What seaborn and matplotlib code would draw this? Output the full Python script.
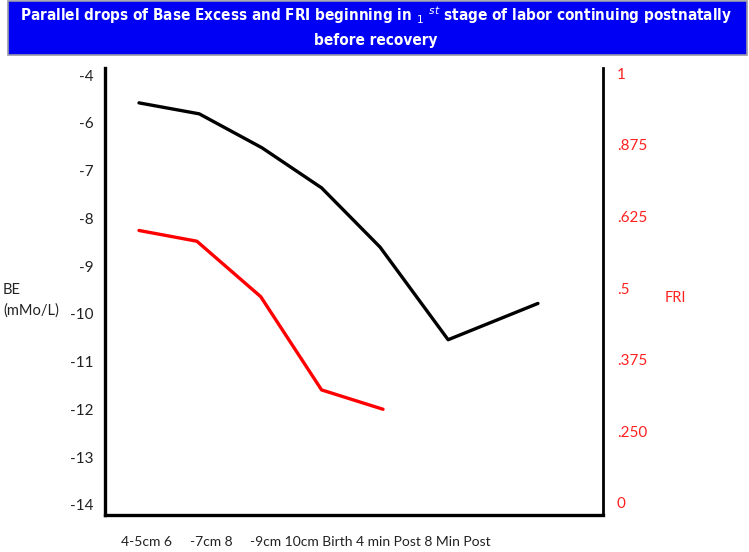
import numpy as np
import pandas as pd
import matplotlib
matplotlib.use("Agg")
import matplotlib.pyplot as plt
import seaborn as sns
from matplotlib.patches import Rectangle

# ---- data ----
# x positions of the stages (category steps)
be_x = [0.0, 1.0, 2.04, 3.03, 4.0, 5.13, 6.62]
be_vals = [-5.58, -5.81, -6.52, -7.36, -8.60, -10.54, -9.78]   # in left-axis position units
fri_x = [0.0, 0.96, 2.02, 3.03, 4.05]
fri_vals = [0.634, 0.609, 0.480, 0.263, 0.218]                 # in right-axis position units

left_tick_pos = [-5, -6, -7, -8, -9, -10, -11, -12, -13, -14]
left_tick_labels = ["-4", "-6", "-7", "-8", "-9", "-10", "-11", "-12", "-13", "-14"]
right_tick_pos = [0, 1/6, 2/6, 3/6, 4/6, 5/6, 1]
right_tick_labels = ["0", ".250", ".375", ".5", ".625", ".875", "1"]
x_tick_pos = [0.12, 1.2, 3.84]
x_tick_labels = ["4-5cm 6", "-7cm 8", "-9cm 10cm Birth 4 min Post 8 Min Post"]

title_lines = ["Parallel drops of Base Excess and FRI beginning in $_1$ $^{st}$ stage of labor continuing postnatally",
               "before recovery"]

sns.set_style("white")
plt.rcParams['font.family'] = ['Lato', 'DejaVu Sans']

W, H = 749, 552
fig = plt.figure(figsize=(W / 100, H / 100), dpi=100)
ax = fig.add_axes([105 / W, 1 - 515 / H, (603 - 105) / W, (515 - 68) / H])
ax2 = ax.twinx()

df_be = pd.DataFrame({"x": be_x, "v": be_vals})
df_fri = pd.DataFrame({"x": fri_x, "v": fri_vals})
sns.lineplot(data=df_be, x="x", y="v", ax=ax, color="black", linewidth=2.4)
sns.lineplot(data=df_fri, x="x", y="v", ax=ax2, color="#ff0000", linewidth=2.4)

ax.set_xlim(-0.564, 7.70)
ax.set_ylim(-14.21, -4.85)
ax2.set_ylim(-0.028, 1.012)

ax.set_yticks(left_tick_pos)
ax.set_yticklabels(left_tick_labels, fontsize=11, color="#222222")
ax2.set_yticks(right_tick_pos)
ax2.set_yticklabels(right_tick_labels, fontsize=11, color="#ff2020")
ax.set_xticks(x_tick_pos)
ax.set_xticklabels(x_tick_labels, fontsize=10, color="#222222")
ax.tick_params(axis="y", length=0, pad=8)
ax2.tick_params(axis="y", length=0, pad=10)
ax.tick_params(axis="x", length=0, pad=15)
ax.set_xlabel("")
ax.set_ylabel("")
ax2.set_ylabel("")

for a in (ax, ax2):
    a.spines["top"].set_visible(False)
ax2.spines["left"].set_visible(False)
ax2.spines["bottom"].set_visible(False)
ax.spines["right"].set_visible(False)
ax.spines["left"].set_linewidth(2.4)
ax.spines["bottom"].set_linewidth(2.4)
ax2.spines["right"].set_linewidth(2.0)
for s in ("left", "bottom"):
    ax.spines[s].set_color("black")
ax2.spines["right"].set_color("black")

# axis titles
fig.text(3 / W, 1 - 290 / H, "BE", fontsize=10.5, color="#222222", ha="left", va="center")
fig.text(3 / W, 1 - 311 / H, "(mMo/L)", fontsize=10.5, color="#222222", ha="left", va="center")
fig.text(665 / W, 1 - 298 / H, "FRI", fontsize=10.5, color="#ff2020", ha="left", va="center")

# title box
fig.patches.append(Rectangle((8 / W, 1 - 55 / H), (747 - 8) / W, 54 / H,
                             transform=fig.transFigure, facecolor="#0000f5",
                             edgecolor="#9a9aa8", linewidth=1.2))
for i, line in enumerate(title_lines):
    fig.text(376 / W, 1 - (15 + 25 * i) / H, line, fontsize=11, color="white", fontweight="bold",
             ha="center", va="center", family="DejaVu Sans", fontstretch="condensed")

fig.savefig("out.png", dpi=100)
